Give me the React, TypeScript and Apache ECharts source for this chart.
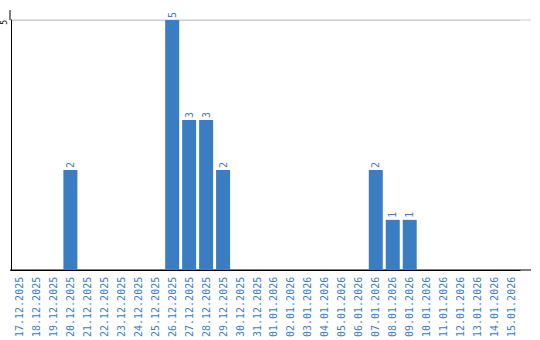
import React, { useEffect, useRef } from "react";
import * as echarts from "echarts";

const categories: string[] = [
  "17.12.2025", "18.12.2025", "19.12.2025", "20.12.2025", "21.12.2025",
  "22.12.2025", "23.12.2025", "24.12.2025", "25.12.2025", "26.12.2025",
  "27.12.2025", "28.12.2025", "29.12.2025", "30.12.2025", "31.12.2025",
  "01.01.2026", "02.01.2026", "03.01.2026", "04.01.2026", "05.01.2026",
  "06.01.2026", "07.01.2026", "08.01.2026", "09.01.2026", "10.01.2026",
  "11.01.2026", "12.01.2026", "13.01.2026", "14.01.2026", "15.01.2026",
];

const values: number[] = [
  0, 0, 0, 2, 0,
  0, 0, 0, 0, 5,
  3, 3, 2, 0, 0,
  0, 0, 0, 0, 0,
  0, 2, 1, 1, 0,
  0, 0, 0, 0, 0,
];

const yTicks = { min: 0, max: 5, interval: 5 };

const BLUE = "#3a7dc2";
const FONT = "'DejaVu Sans Mono', monospace";

export default function App() {
  const ref = useRef<HTMLDivElement>(null);
  useEffect(() => {
    if (!ref.current) return;
    const chart = echarts.init(ref.current, null, { renderer: "svg" });
    chart.setOption({
      animation: false,
      backgroundColor: "#ffffff",
      grid: { left: 10, top: 20, width: 510, height: 250, containLabel: false },
      xAxis: {
        type: "category",
        data: categories,
        boundaryGap: true,
        axisLine: { show: true, lineStyle: { color: "#000", width: 1 } },
        axisTick: { show: false },
        axisLabel: {
          rotate: 90,
          interval: 0,
          margin: 7,
          color: BLUE,
          fontFamily: FONT,
          fontSize: 10,
        },
        splitLine: { show: false },
      },
      yAxis: {
        type: "value",
        min: yTicks.min,
        max: yTicks.max,
        interval: yTicks.interval,
        axisLine: { show: true, lineStyle: { color: "#000", width: 1 } },
        axisTick: { show: false },
        axisLabel: {
          rotate: 90,
          margin: 3,
          align: "right",
          verticalAlign: "bottom",
          color: "#000",
          fontFamily: FONT,
          fontSize: 8,
          formatter: (v: number) => (v === 0 ? "" : String(v)),
        },
        splitLine: { show: true, lineStyle: { color: "#cccccc", width: 1 } },
      },
      graphic: [
        {
          type: "line",
          shape: { x1: 10, y1: 20, x2: 531, y2: 20 },
          style: { stroke: "#cccccc", lineWidth: 1 },
          silent: true,
        },
        {
          type: "line",
          shape: { x1: 10, y1: 270, x2: 531, y2: 270 },
          style: { stroke: "#000", lineWidth: 1 },
          silent: true,
        },
        {
          type: "line",
          shape: { x1: 10, y1: 10, x2: 10, y2: 20 },
          style: { stroke: "#000", lineWidth: 1 },
          silent: true,
        },
      ],
      series: [
        {
          type: "bar",
          data: values,
          barWidth: 14,
          itemStyle: { color: BLUE },
          label: {
            show: true,
            position: "top",
            rotate: 90,
            align: "left",
            verticalAlign: "middle",
            distance: 2,
            color: BLUE,
            fontFamily: FONT,
            fontSize: 10,
            formatter: (p: any) => (p.value === 0 ? "" : String(p.value)),
          },
        },
      ],
    });
    return () => chart.dispose();
  }, []);
  return (
    <div
      ref={ref}
      style={{ position: "absolute", left: 0, top: 0, width: 540, height: 340 }}
    />
  );
}
